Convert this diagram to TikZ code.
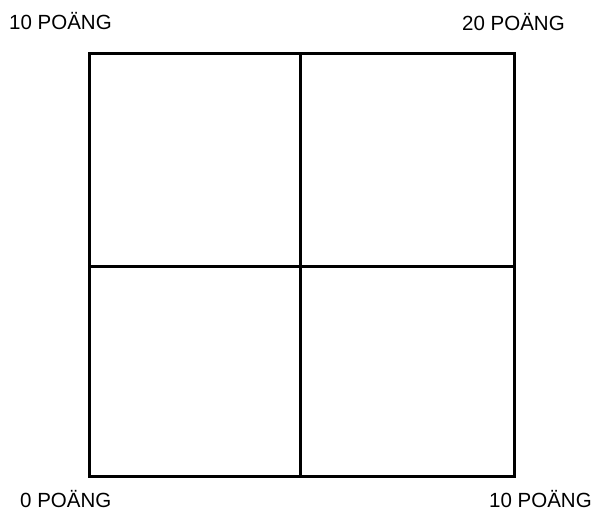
\documentclass[tikz,border=0pt]{standalone}
\usepackage{fontspec}
\setmainfont{Liberation Sans}
\begin{document}
\begin{tikzpicture}[x=1pt,y=-1pt,
  gridline/.style={line width=3pt,line cap=rect},
  score/.style={inner sep=0pt,anchor=base west,font=\fontsize{20.5}{24}\selectfont}]
\useasboundingbox[fill=white] (0,0) rectangle (594,514);
\coordinate (tl) at (89,53);
\coordinate (br) at (514,476.5);
\coordinate (tm) at (300,53);
\coordinate (bm) at (300,476.5);
\coordinate (lm) at (89,266);
\coordinate (rm) at (514,266);
\draw[gridline] (tl) rectangle (br);
\draw[gridline] (tm) -- (bm);
\draw[gridline] (lm) -- (rm);
\node[score] (s1) at (9,29) {10 POÄNG};
\node[score] (s2) at (462,30.5) {20 POÄNG};
\node[score] (s3) at (20,507) {0 POÄNG};
\node[score] (s4) at (489,507) {10 POÄNG};
\end{tikzpicture}
\end{document}
